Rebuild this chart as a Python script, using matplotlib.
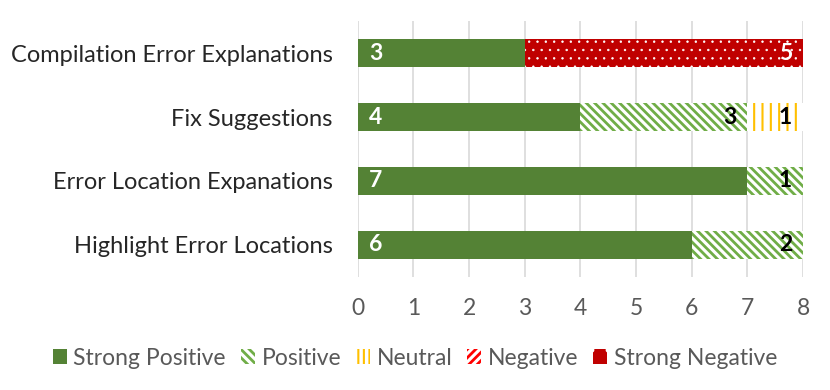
import matplotlib
matplotlib.use("Agg")
import matplotlib.pyplot as plt
import numpy as np

categories = ["Highlight Error Locations", "Error Location Expanations",
              "Fix Suggestions", "Compilation Error Explanations"]
series_names = ["Strong Positive", "Positive", "Neutral", "Negative", "Strong Negative"]
strong_positive = [6, 7, 4, 3]
positive = [2, 1, 3, 0]
neutral = [0, 0, 1, 0]
negative = [0, 0, 0, 0]
strong_negative = [0, 0, 0, 5]
x_ticks = [0, 1, 2, 3, 4, 5, 6, 7, 8]

plt.rcParams['font.family'] = ['Lato', 'DejaVu Sans']
plt.rcParams['hatch.linewidth'] = 1.8

fig = plt.figure(figsize=(8.3, 3.9), dpi=100)
ax = fig.add_axes([0.431, 0.29, 0.5365, 0.656])

y = np.arange(len(categories))
h = 0.43
data = [strong_positive, positive, neutral, negative, strong_negative]
styles = [
    dict(facecolor="#548235", edgecolor="#548235", hatch=None, hlw=1.0, lhatch=None),
    dict(facecolor="white", edgecolor="#70AD47", hatch="\\" * 4, hlw=2.0, lhatch="\\" * 4),
    dict(facecolor="white", edgecolor="#FFC000", hatch="||", hlw=1.5, lhatch="|||"),
    dict(facecolor="white", edgecolor="#FF0000", hatch="/" * 4, hlw=2.0, lhatch="/" * 4),
    dict(facecolor="#C00000", edgecolor="white", hatch="..", hlw=0.5, lhatch="."),
]
label_colors = ["white", "black", "black", "white", "white"]

FS = 16.5
left = np.zeros(len(categories))
handles = []
for vals, st, name, lc in zip(data, styles, series_names, label_colors):
    vals = np.array(vals, dtype=float)
    bars = ax.barh(y, vals, left=left, height=h, facecolor=st["facecolor"],
                   edgecolor=st["edgecolor"], hatch=st["hatch"], linewidth=0,
                   label=name, zorder=3)
    for p in bars.patches:
        if hasattr(p, "set_hatch_linewidth"):
            p.set_hatch_linewidth(st["hlw"])
    handles.append(bars)
    for i, v in enumerate(vals):
        if v <= 0:
            continue
        if name == "Strong Positive":
            ax.annotate(f"{int(v)}", (left[i], y[i]), xytext=(8, 0),
                        textcoords="offset points", ha="left", va="center",
                        color=lc, fontsize=FS, fontweight="bold", zorder=5)
        else:
            ax.annotate(f"{int(v)}", (left[i] + v, y[i]), xytext=(-8, 0),
                        textcoords="offset points", ha="right", va="center",
                        color=lc, fontsize=FS, fontweight="bold", zorder=5)
    left = left + vals

ax.set_xlim(0, 8)
ax.set_ylim(-0.5, len(categories) - 0.5)
ax.set_xticks(x_ticks)
ax.set_yticks(y)
ax.set_yticklabels(categories, fontsize=17)
ax.tick_params(axis="x", length=0, labelsize=FS, pad=15)
ax.tick_params(axis="y", length=0, pad=18)
for lab in ax.get_xticklabels():
    lab.set_color("#595959")
for lab in ax.get_yticklabels():
    lab.set_color("#262626")
ax.grid(axis="x", color="#D9D9D9", linewidth=1.2, zorder=0)
for s in ax.spines.values():
    s.set_visible(False)

leg = fig.legend(handles=handles, labels=series_names, loc="center",
                 bbox_to_anchor=(0.5, 0.082), ncol=5, frameon=False,
                 fontsize=FS, handlelength=0.6, handleheight=0.6,
                 handletextpad=0.3, columnspacing=0.65, borderpad=0.2)
for t in leg.get_texts():
    t.set_color("#595959")
for patch, st in zip(leg.get_patches(), styles):
    patch.set_hatch(st["lhatch"])
    if hasattr(patch, "set_hatch_linewidth"):
        patch.set_hatch_linewidth(st["hlw"] if st["lhatch"] != "." else 1.5)

fig.savefig("out.png", dpi=100)
